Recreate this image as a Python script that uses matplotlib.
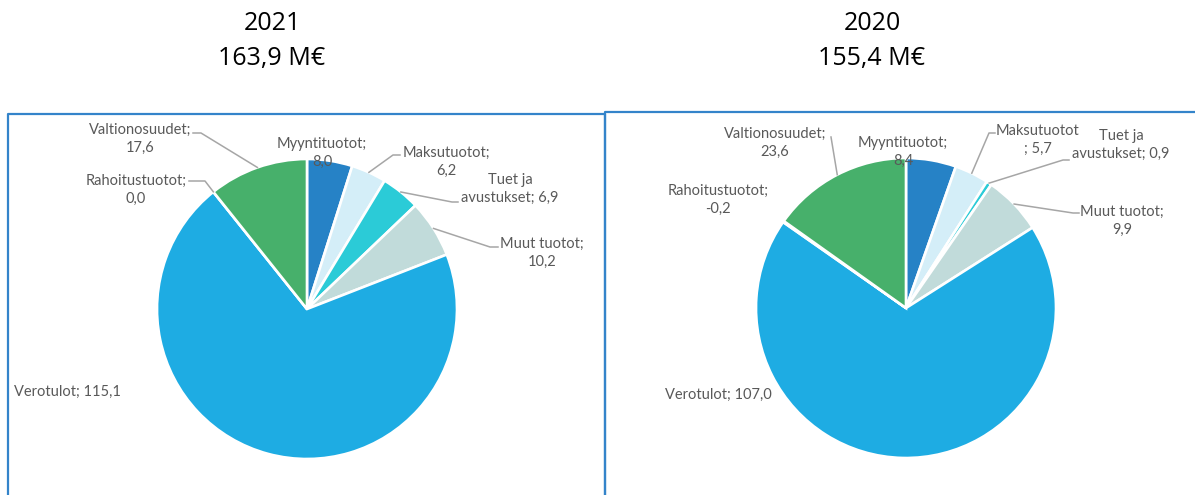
import matplotlib
matplotlib.use("Agg")
import matplotlib.pyplot as plt
import numpy as np

# data (M€)
categories = ["Myyntituotot", "Maksutuotot", "Tuet ja avustukset", "Muut tuotot",
              "Verotulot", "Rahoitustuotot", "Valtionosuudet"]
values_2021 = [8.0, 6.2, 6.9, 10.2, 115.1, 0.0, 17.6]
values_2020 = [8.4, 5.7, 0.9, 9.9, 107.0, -0.2, 23.6]
years = ["2021", "2020"]
totals = [163.9, 155.4]

colors = ["#2682C6", "#D4EEF8", "#2BCBD7", "#C1DBDA", "#1EACE3", "#8FA9C9", "#47B06B"]
text_grey = "#595959"
line_grey = "#A6A6A6"
box_blue = "#3484CA"


def fi(v):
    return f"{v:.1f}".replace(".", ",")


def make_label(name, v, split_semicolon=False):
    if name == "Verotulot":
        return f"{name}; {fi(v)}"
    if name == "Tuet ja avustukset":
        return f"Tuet ja\navustukset; {fi(v)}"
    if split_semicolon:
        return f"{name}\n; {fi(v)}"
    return f"{name};\n{fi(v)}"


# layout in pixels (y from top): label centre, leader points towards the wedge
layout_2021 = {
    "center": (307, 309),
    "Myyntituotot": ((322, 153), []),
    "Maksutuotot": ((446, 162), [(400, 155), (393, 155)]),
    "Tuet ja avustukset": ((510, 189), [(458, 202), (452, 202)]),
    "Muut tuotot": ((542, 253), [(498, 247), (490, 247)]),
    "Verotulot": ((67, 392), []),
    "Rahoitustuotot": ((136, 190), [(189, 181), (205, 181)]),
    "Valtionosuudet": ((140, 139), [(193, 133), (201, 133)]),
}
layout_2020 = {
    "center": (906, 308),
    "Myyntituotot": ((903, 152), []),
    "Maksutuotot": ((1038, 140), [(995, 133), (989, 133)]),
    "Tuet ja avustukset": ((1121, 145), [(1069, 160), (1063, 160)]),
    "Muut tuotot": ((1122, 221), [(1079, 213), (1073, 213)]),
    "Verotulot": ((718, 395), []),
    "Rahoitustuotot": ((718, 200), []),
    "Valtionosuudet": ((775, 143), [(831, 137)]),
}

R = 150

fig = plt.figure(figsize=(11.95, 4.95), dpi=100)
ax = fig.add_axes([0, 0, 1, 1])

# boxes around the two charts
ax.plot([8, 8, 605, 605], [500, 113.5, 113.5, 500], color=box_blue, lw=1.6)
ax.plot([605, 605, 1200], [500, 111.5, 111.5], color=box_blue, lw=1.6)

for vals, layout, year, total, title_x in [
    (values_2021, layout_2021, years[0], totals[0], 272),
    (values_2020, layout_2020, years[1], totals[1], 872),
]:
    cx, cy = layout["center"]
    # y axis is inverted, so counterclock=True runs clockwise on screen
    wedges, _ = ax.pie([abs(v) for v in vals], colors=colors, startangle=-90,
                       counterclock=True, radius=R, center=(cx, cy), frame=True,
                       wedgeprops=dict(edgecolor="white", linewidth=1.9))
    for w, name, v in zip(wedges, categories, vals):
        (lx, ly), leader = layout[name]
        split = (year == "2020" and name == "Maksutuotot")
        ax.text(lx, ly, make_label(name, v, split), ha="center", va="center",
                multialignment="center", fontsize=10.5, color=text_grey,
                family="Lato", linespacing=1.35, zorder=5)
        if leader:
            mid = np.deg2rad((w.theta1 + w.theta2) / 2)
            end = (cx + R * np.cos(mid), cy + R * np.sin(mid))
            pts = leader + [end]
            ax.plot([p[0] for p in pts], [p[1] for p in pts], color=line_grey,
                    lw=1.1, zorder=4)
    ax.text(title_x, 24, year, ha="center", va="center", fontsize=18,
            family="Open Sans", color="black")
    ax.text(title_x, 59, f"{fi(total)} M€", ha="center", va="center",
            fontsize=18, family="Open Sans", color="black")

ax.set_aspect("auto")
ax.set_xlim(0, 1195)
ax.set_ylim(495, 0)
ax.axis("off")

fig.savefig("out.png", dpi=100)
